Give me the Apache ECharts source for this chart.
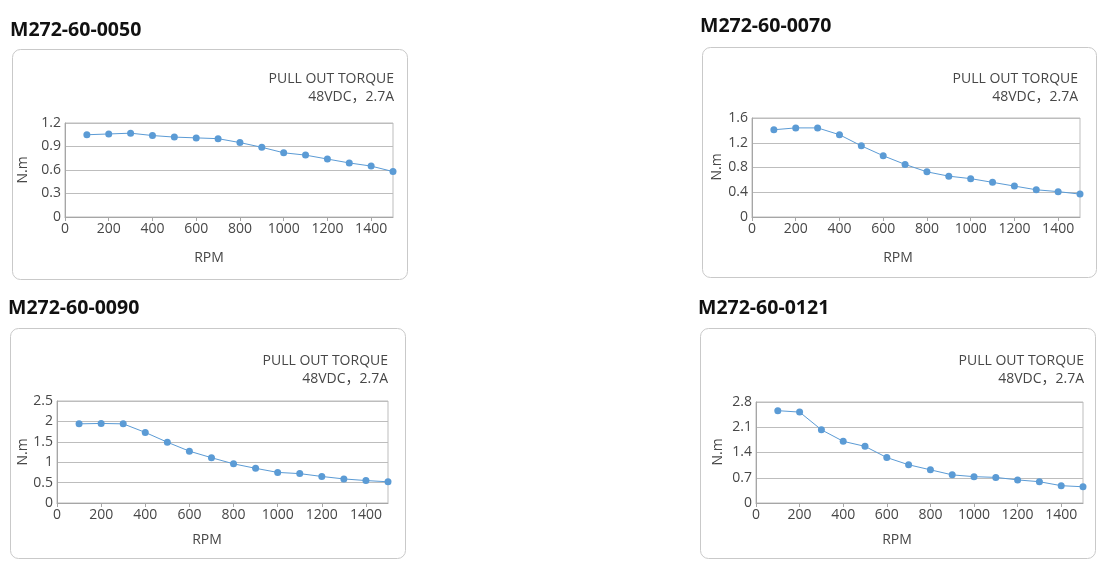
<!DOCTYPE html>
<html>
<head>
<meta charset="utf-8">
<script src="https://cdn.jsdelivr.net/npm/echarts@6/dist/echarts.min.js"></script>
<style>
  html, body { margin: 0; padding: 0; background: #fff; }
  #chart { width: 1114px; height: 577px; }
</style>
</head>
<body>
<div id="chart"></div>
<script>
// shared x values (RPM)
const rpm = [100, 200, 300, 400, 500, 600, 700, 800, 900, 1000, 1100, 1200, 1300, 1400, 1500];

const titles = ['M272-60-0050', 'M272-60-0070', 'M272-60-0090', 'M272-60-0121'];
const subTitle1 = 'PULL OUT TORQUE';
const subTitle2 = '48VDC，2.7A';

// torque values, N.m
const torque0050 = [1.05, 1.06, 1.07, 1.04, 1.02, 1.01, 1.0, 0.95, 0.89, 0.82, 0.79, 0.74, 0.69, 0.65, 0.58];
const torque0070 = [1.41, 1.44, 1.44, 1.33, 1.15, 0.99, 0.85, 0.73, 0.66, 0.62, 0.56, 0.50, 0.44, 0.41, 0.37];
const torque0090 = [1.94, 1.95, 1.94, 1.73, 1.49, 1.27, 1.11, 0.96, 0.85, 0.75, 0.72, 0.65, 0.59, 0.55, 0.52];
const torque0121 = [2.56, 2.52, 2.03, 1.71, 1.57, 1.26, 1.06, 0.92, 0.78, 0.73, 0.71, 0.64, 0.59, 0.48, 0.45];

// y axis ranges
const yMax = [1.2, 1.6, 2.5, 2.8];
const yStep = [0.3, 0.4, 0.5, 0.7];

const allData = [torque0050, torque0070, torque0090, torque0121];

// panel layout (px)
const panels = [
  { box: [12, 49, 395, 230], title: [10, 30], grid: [65, 123, 328, 94], sub: [394, 79], rpm: [209, 258], nm: [23, 170] },
  { box: [702, 47, 394, 230], title: [700, 26], grid: [752, 118, 328, 99], sub: [1078, 79], rpm: [898, 258], nm: [717, 167] },
  { box: [10, 328, 395, 230], title: [8, 308], grid: [57, 401, 331, 102], sub: [388, 361], rpm: [207, 540], nm: [23, 452] },
  { box: [700, 328, 395, 230], title: [698, 308], grid: [756, 402, 327, 101], sub: [1084, 361], rpm: [897, 540], nm: [718, 452] }
];

const font = '"Open Sans", "Noto Sans CJK SC", sans-serif';
const textColor = '#474747';

const myChart = echarts.init(document.getElementById('chart'));

const grids = [], xAxes = [], yAxes = [], series = [], graphics = [];

panels.forEach((p, i) => {
  graphics.push({
    type: 'rect',
    shape: { x: p.box[0] + 0.5, y: p.box[1] + 0.5, width: p.box[2], height: p.box[3], r: 8 },
    style: { fill: '#fff', stroke: '#c9c9c9', lineWidth: 1 },
    z: -10
  });
  graphics.push({
    type: 'text',
    x: p.title[0], y: p.title[1],
    style: { text: titles[i], font: 'bold 19.5px ' + font, fill: '#111', textVerticalAlign: 'middle' }
  });
  graphics.push({
    type: 'text',
    x: p.sub[0], y: p.sub[1],
    style: { text: subTitle1, font: '14px ' + font, fill: textColor, textAlign: 'right', textVerticalAlign: 'middle' }
  });
  graphics.push({
    type: 'text',
    x: p.sub[0], y: p.sub[1] + 18,
    style: { text: subTitle2, font: '14px ' + font, fill: textColor, textAlign: 'right', textVerticalAlign: 'middle' }
  });
  graphics.push({
    type: 'text',
    x: p.rpm[0], y: p.rpm[1],
    style: { text: 'RPM', font: '14px ' + font, fill: textColor, textAlign: 'center', textVerticalAlign: 'middle' }
  });
  graphics.push({
    type: 'text',
    x: p.nm[0], y: p.nm[1],
    rotation: Math.PI / 2,
    style: { text: 'N.m', font: '14px ' + font, fill: textColor, textAlign: 'center', textVerticalAlign: 'middle' }
  });

  grids.push({
    left: p.grid[0], top: p.grid[1], width: p.grid[2], height: p.grid[3],
    show: true, borderColor: '#bdbdbd', borderWidth: 1, backgroundColor: 'transparent'
  });
  xAxes.push({
    type: 'value', gridIndex: i, min: 0, max: 1500, interval: 200,
    axisLine: { show: true, lineStyle: { color: '#a6a6a6' } },
    axisTick: { show: true, length: 4, lineStyle: { color: '#a6a6a6' } },
    axisLabel: {
      color: textColor, fontSize: 14, fontFamily: font, margin: 5, showMaxLabel: false,
      formatter: v => String(v)
    },
    splitLine: { show: false }
  });
  yAxes.push({
    type: 'value', gridIndex: i, min: 0, max: yMax[i], interval: yStep[i],
    axisLine: { show: true, lineStyle: { color: '#a6a6a6' } },
    axisTick: { show: false },
    axisLabel: { color: textColor, fontSize: 14, fontFamily: font, margin: 4 },
    splitLine: { show: true, lineStyle: { color: '#bdbdbd', width: 1 } }
  });
  series.push({
    type: 'line', xAxisIndex: i, yAxisIndex: i,
    data: rpm.map((r, k) => [r, allData[i][k]]),
    symbol: 'circle', symbolSize: 7,
    lineStyle: { color: '#5b9bd5', width: 1 },
    itemStyle: { color: '#5b9bd5' },
    animation: false
  });
});

myChart.setOption({
  animation: false,
  grid: grids,
  xAxis: xAxes,
  yAxis: yAxes,
  series: series,
  graphic: graphics
});
</script>
</body>
</html>
